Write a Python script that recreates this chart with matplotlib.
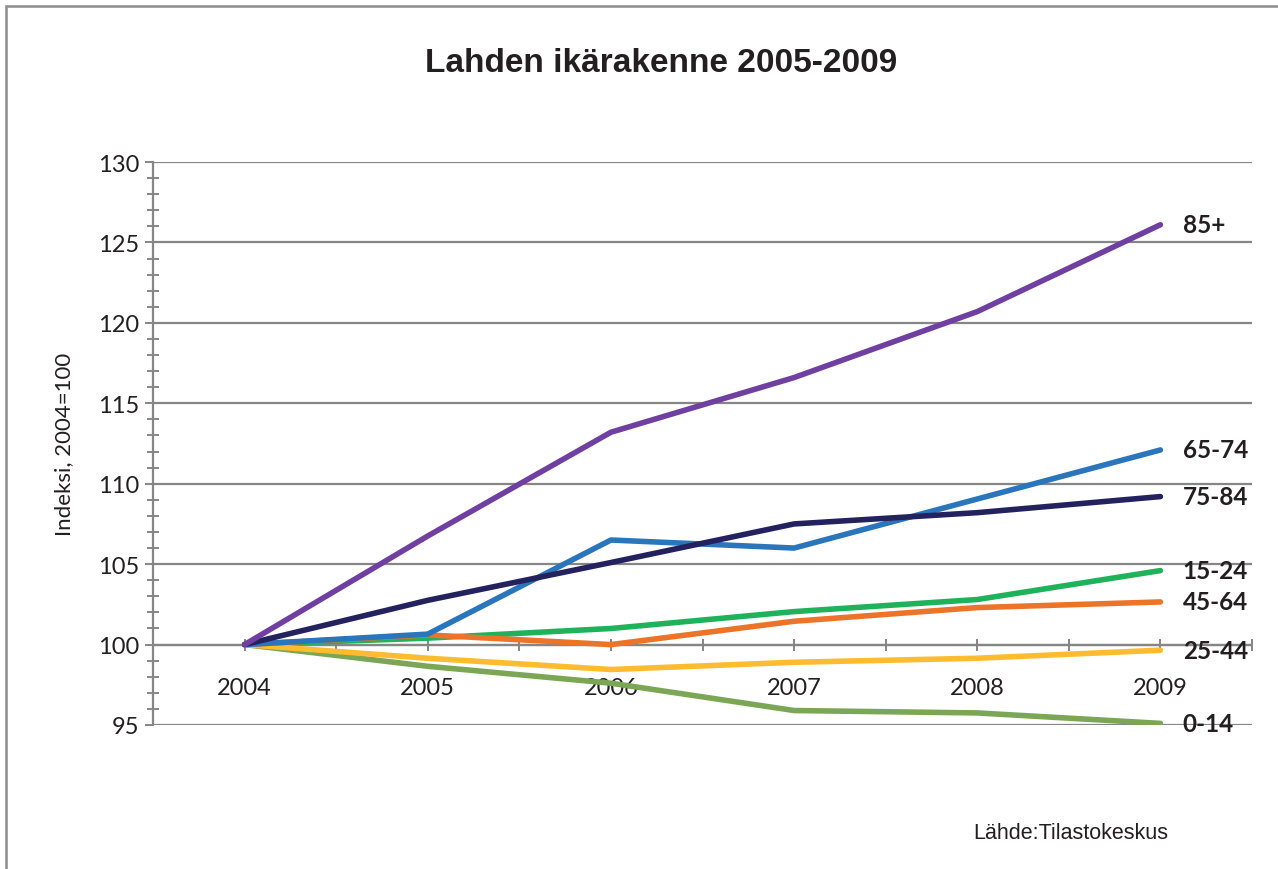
import matplotlib
matplotlib.use('Agg')
import matplotlib.pyplot as plt
from matplotlib.patches import Rectangle

# data (index, 2004 = 100)
years = ['2004', '2005', '2006', '2007', '2008', '2009']
groups = ['0-14', '15-24', '25-44', '45-64', '65-74', '75-84', '85+']
v_0_14 = [100, 98.65, 97.6, 95.9, 95.75, 95.1]
v_15_24 = [100, 100.4, 101.0, 102.05, 102.8, 104.6]
v_25_44 = [100, 99.15, 98.45, 98.9, 99.15, 99.65]
v_45_64 = [100, 100.6, 100.0, 101.45, 102.3, 102.65]
v_65_74 = [100, 100.65, 106.5, 106.0, 109.05, 112.1]
v_75_84 = [100, 102.75, 105.1, 107.5, 108.2, 109.2]
v_85 = [100, 106.75, 113.2, 116.6, 120.7, 126.1]
values = [v_0_14, v_15_24, v_25_44, v_45_64, v_65_74, v_75_84, v_85]
colors = ['#7aa655', '#1fb25a', '#fdbb2f', '#ec7428', '#2b75bb', '#23215e', '#7040a0']

grid_c = '#868686'
txt_c = '#231f20'
calibri_like = 'Lato'

fig = plt.figure(figsize=(12.78, 8.70), dpi=100)
fig.patches.append(Rectangle((6 / 1278, -0.1), 1.2, 1 - 6.5 / 870 + 0.1,
                             transform=fig.transFigure, fill=False,
                             edgecolor='#8c8c8c', linewidth=1.8))

ax = fig.add_axes([153 / 1278, 1 - 726 / 870, (1252 - 153) / 1278, (726 - 163) / 870])
ax.set_xlim(-0.5, 5.5)
ax.set_ylim(95, 130)
for s in ['top', 'right', 'bottom']:
    ax.spines[s].set_visible(False)
ax.spines['left'].set_color(grid_c)
ax.spines['left'].set_linewidth(1.6)

ax.set_yticks(range(95, 131, 5))
ax.set_yticks(range(95, 131, 1), minor=True)
ax.tick_params(axis='y', which='major', length=6, width=1.4, color=grid_c,
               labelsize=17, labelcolor=txt_c, pad=4)
ax.tick_params(axis='y', which='minor', length=9, width=1.4, color=grid_c, direction='inout')
for lab in ax.get_yticklabels():
    lab.set_family(calibri_like)
ax.set_xticks([])
ax.yaxis.grid(True, which='major', color=grid_c, linewidth=1.6)
ax.set_axisbelow(True)

# horizontal category axis crossing at 100
ax.axhline(100, color=grid_c, linewidth=1.6, zorder=1)
half = [i / 2 for i in range(0, 12)]
ax.plot(half, [100] * len(half), linestyle='none', marker='|',
        markersize=9, markeredgewidth=1.4, color=grid_c, zorder=1)
for i, y in enumerate(years):
    ax.annotate(y, (i, 100), xytext=(0, -31), textcoords='offset points',
                ha='center', va='center', fontsize=17, family=calibri_like, color=txt_c)

x = list(range(len(years)))
for name, vals, c in zip(groups, values, colors):
    ax.plot(x, vals, color=c, linewidth=4.0, solid_capstyle='round',
            solid_joinstyle='round', zorder=3)
    ax.annotate(name, (x[-1], vals[-1]), xytext=(16, 0), textcoords='offset points',
                ha='left', va='center', fontsize=17.5, fontweight='bold',
                family=calibri_like, color=txt_c, annotation_clip=False)

ax.set_ylabel('Indeksi, 2004=100', fontsize=16, family=calibri_like, color=txt_c, labelpad=17)

fig.text(661 / 1278, 1 - 64 / 870, 'Lahden ikärakenne 2005-2009', ha='center', va='center',
         fontsize=24, fontweight='bold', family='Liberation Sans', color=txt_c)
fig.text(1071 / 1278, 1 - 834 / 870, 'Lähde:Tilastokeskus', ha='center', va='center',
         fontsize=15.5, family='Liberation Sans', color=txt_c)

fig.savefig('out.png', dpi=100)
